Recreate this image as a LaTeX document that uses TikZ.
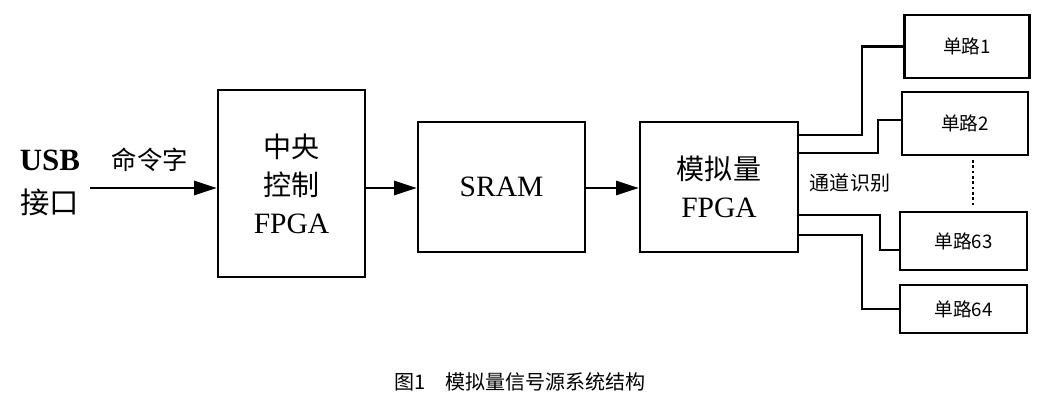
\documentclass[tikz,border=0pt]{standalone}
\usepackage{fontspec}
\setmainfont{Liberation Serif}
\newfontfamily\cjk{Noto Sans CJK SC}[Scale=0.95]
\usetikzlibrary{arrows.meta,positioning,calc}

\tikzset{
  blk/.style={draw, line width=1.8pt, inner sep=0pt, align=center, font=\cjk\fontsize{21}{27}\selectfont},
  ch/.style={draw, line width=1.8pt, inner sep=0pt, font=\cjk\fontsize{14}{16}\selectfont},
  flow/.style={-{Triangle[length=16pt,width=10pt]}, line width=1.6pt},
  wire/.style={line width=1.6pt}
}

\begin{document}
\begin{tikzpicture}[x=0.025cm, y=-0.025cm]
\useasboundingbox (0,0) rectangle (1040,404);

% main blocks
\node[blk, minimum width=147*0.025cm, minimum height=187*0.025cm] (ctrl) at (291.5,183.5)
  {中央\\控制\\\fontspec{Liberation Serif}FPGA};
\node[blk, minimum width=167*0.025cm, minimum height=130*0.025cm] (sram) at (501.5,187)
  {\fontspec{Liberation Serif}SRAM};
\node[blk, minimum width=158*0.025cm, minimum height=130*0.025cm] (afpga) at (719,187)
  {模拟量\\\fontspec{Liberation Serif}FPGA};

% channel blocks
\node[ch, minimum width=125*0.025cm, minimum height=63*0.025cm] (ch1) at (967,46.5) {单路1};
\node[ch, minimum width=126*0.025cm, minimum height=63*0.025cm] (ch2) at (965,123.5) {单路2};
\node[ch, minimum width=127*0.025cm, minimum height=58*0.025cm] (ch63) at (963.5,241) {单路63};
\node[ch, minimum width=127*0.025cm, minimum height=48*0.025cm] (ch64) at (963.5,309) {单路64};

% input side
\node[font=\bfseries\fontsize{22}{24}\selectfont] (usb) at (50,160) {USB};
\node[font=\cjk\fontsize{22}{24}\selectfont] (port) at (50,202) {接口};
\node[font=\cjk\fontsize{19}{21}\selectfont] (cmd) at (150,160) {命令字};
\coordinate (in) at (90,188);

% flow arrows
\draw[flow] (in) -- (ctrl.west |- in);
\draw[flow] (ctrl.east |- in) -- (sram.west |- in);
\draw[flow] (sram.east |- in) -- (afpga.west |- in);

% channel wires
\draw[wire] (798,135) -- (862,135) |- (ch1.west);
\draw[wire] (798,153) -- (878,153) |- (902,120);
\draw[wire] (798,215) -- (880,215) |- (900,250);
\draw[wire] (798,235) -- (862,235) |- (ch64.west);
\draw[line width=1.8pt, dotted] (973,160) -- (973,205);
\node[font=\cjk\fontsize{15}{17}\selectfont] (cid) at (850,183) {通道识别};

% caption
\node[font=\cjk\fontsize{15}{17}\selectfont] (cap) at (520,382) {图1\quad 模拟量信号源系统结构};
\end{tikzpicture}
\end{document}
